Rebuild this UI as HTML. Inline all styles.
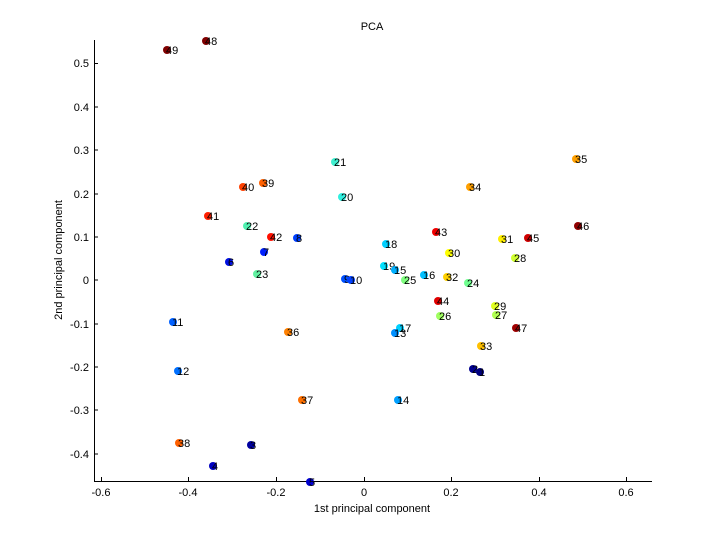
<!DOCTYPE html>
<html><head><meta charset="utf-8"><style>body{margin:0;background:#fff}svg{display:block}text{font-family:"Liberation Sans",sans-serif;font-size:11px;fill:#000}</style></head><body>
<svg width="720" height="540" xmlns="http://www.w3.org/2000/svg">
<rect width="720" height="540" fill="#fff"/>
<text x="372" y="30" text-anchor="middle">PCA</text>
<g stroke="#000" stroke-width="1" fill="none">
<path d="M94.5 40V481.5H652"/>
<path d="M94 63.5h4M94 107h4M94 150h4M94 194h4M94 237h4M94 280h4M94 324h4M94 367h4M94 410h4M94 454h4"/>
<path d="M101.5 481v-4M188.5 481v-4M276.5 481v-4M364.5 481v-4M451.5 481v-4M539.5 481v-4M626.5 481v-4"/>
</g>
<g text-anchor="end">
<text x="89" y="67">0.5</text><text x="89" y="111">0.4</text><text x="89" y="154">0.3</text><text x="89" y="198">0.2</text><text x="89" y="241">0.1</text><text x="89" y="284">0</text><text x="89" y="328">-0.1</text><text x="89" y="371">-0.2</text><text x="89" y="414">-0.3</text><text x="89" y="458">-0.4</text>
</g>
<g text-anchor="middle">
<text x="101" y="496">-0.6</text><text x="188" y="496">-0.4</text><text x="276" y="496">-0.2</text><text x="364" y="496">0</text><text x="451" y="496">0.2</text><text x="539" y="496">0.4</text><text x="626" y="496">0.6</text>
<text x="372" y="512">1st principal component</text>
</g>
<text transform="translate(62 260) rotate(-90)" text-anchor="middle">2nd principal component</text>
<g transform="translate(-2 0)">
<circle cx="208" cy="41" r="4" fill="#800000"/><text x="207" y="45">48</text>
<circle cx="169" cy="50" r="4" fill="#800000"/><text x="168" y="54">49</text>
<circle cx="337" cy="162" r="4" fill="#40f0d0"/><text x="336" y="166">21</text>
<circle cx="265" cy="183" r="4" fill="#ff6000"/><text x="264" y="187">39</text>
<circle cx="245" cy="187" r="4" fill="#ff4000"/><text x="244" y="191">40</text>
<circle cx="344" cy="197" r="4" fill="#30f0e0"/><text x="343" y="201">20</text>
<circle cx="210" cy="216" r="4" fill="#ff2000"/><text x="209" y="220">41</text>
<circle cx="249" cy="226" r="4" fill="#50f0b0"/><text x="248" y="230">22</text>
<circle cx="273" cy="237" r="4" fill="#ff1000"/><text x="272" y="241">42</text>
<circle cx="299" cy="238" r="4" fill="#0040ff"/><text x="298" y="242">8</text>
<circle cx="266" cy="252" r="4" fill="#0020ff"/><text x="265" y="256">7</text>
<circle cx="231" cy="262" r="4" fill="#0010e0"/><text x="230" y="266">6</text>
<circle cx="259" cy="274" r="4" fill="#60f0a0"/><text x="258" y="278">23</text>
<circle cx="578" cy="159" r="4" fill="#ffa000"/><text x="577" y="163">35</text>
<circle cx="472" cy="187" r="4" fill="#ffa000"/><text x="471" y="191">34</text>
<circle cx="580" cy="226" r="4" fill="#900000"/><text x="579" y="230">46</text>
<circle cx="438" cy="232" r="4" fill="#f00000"/><text x="437" y="236">43</text>
<circle cx="504" cy="239" r="4" fill="#ffef00"/><text x="503" y="243">31</text>
<circle cx="530" cy="238" r="4" fill="#d00000"/><text x="529" y="242">45</text>
<circle cx="388" cy="244" r="4" fill="#00d0ff"/><text x="387" y="248">18</text>
<circle cx="451" cy="253" r="4" fill="#ffff00"/><text x="450" y="257">30</text>
<circle cx="517" cy="258" r="4" fill="#d0ff30"/><text x="516" y="262">28</text>
<circle cx="386" cy="266" r="4" fill="#00e0ff"/><text x="385" y="270">19</text>
<circle cx="397" cy="270" r="4" fill="#00b0ff"/><text x="396" y="274">15</text>
<circle cx="426" cy="275" r="4" fill="#00c0ff"/><text x="425" y="279">16</text>
<circle cx="347" cy="279" r="4" fill="#0050ff"/><text x="346" y="283">9</text>
<circle cx="353" cy="280" r="4" fill="#0040ff"/><text x="352" y="284">10</text>
<circle cx="407" cy="280" r="4" fill="#80ff80"/><text x="406" y="284">25</text>
<circle cx="449" cy="277" r="4" fill="#ffd000"/><text x="448" y="281">32</text>
<circle cx="470" cy="283" r="4" fill="#70ff90"/><text x="469" y="287">24</text>
<circle cx="440" cy="301" r="4" fill="#e00000"/><text x="439" y="305">44</text>
<circle cx="497" cy="306" r="4" fill="#e0ff20"/><text x="496" y="310">29</text>
<circle cx="442" cy="316" r="4" fill="#a0ff60"/><text x="441" y="320">26</text>
<circle cx="498" cy="315" r="4" fill="#b0ff50"/><text x="497" y="319">27</text>
<circle cx="402" cy="328" r="4" fill="#00d0ff"/><text x="401" y="332">17</text>
<circle cx="397" cy="333" r="4" fill="#0090ff"/><text x="396" y="337">13</text>
<circle cx="518" cy="328" r="4" fill="#a00000"/><text x="517" y="332">47</text>
<circle cx="483" cy="346" r="4" fill="#ffc000"/><text x="482" y="350">33</text>
<circle cx="175" cy="322" r="4" fill="#0060ff"/><text x="174" y="326">11</text>
<circle cx="290" cy="332" r="4" fill="#ff8000"/><text x="289" y="336">36</text>
<circle cx="180" cy="371" r="4" fill="#0070ff"/><text x="179" y="375">12</text>
<circle cx="475" cy="369" r="4" fill="#000090"/><text x="474" y="373">2</text>
<circle cx="482" cy="372" r="4" fill="#000080"/><text x="481" y="376">1</text>
<circle cx="304" cy="400" r="4" fill="#ff7000"/><text x="303" y="404">37</text>
<circle cx="400" cy="400" r="4" fill="#00a0ff"/><text x="399" y="404">14</text>
<circle cx="181" cy="443" r="4" fill="#ff6000"/><text x="180" y="447">38</text>
<circle cx="253" cy="445" r="4" fill="#0000a0"/><text x="252" y="449">3</text>
<circle cx="215" cy="466" r="4" fill="#0000c0"/><text x="214" y="470">4</text>
<circle cx="312" cy="482" r="4" fill="#0000d0"/><text x="311" y="486">5</text>
</g>
</svg>
</body></html>
